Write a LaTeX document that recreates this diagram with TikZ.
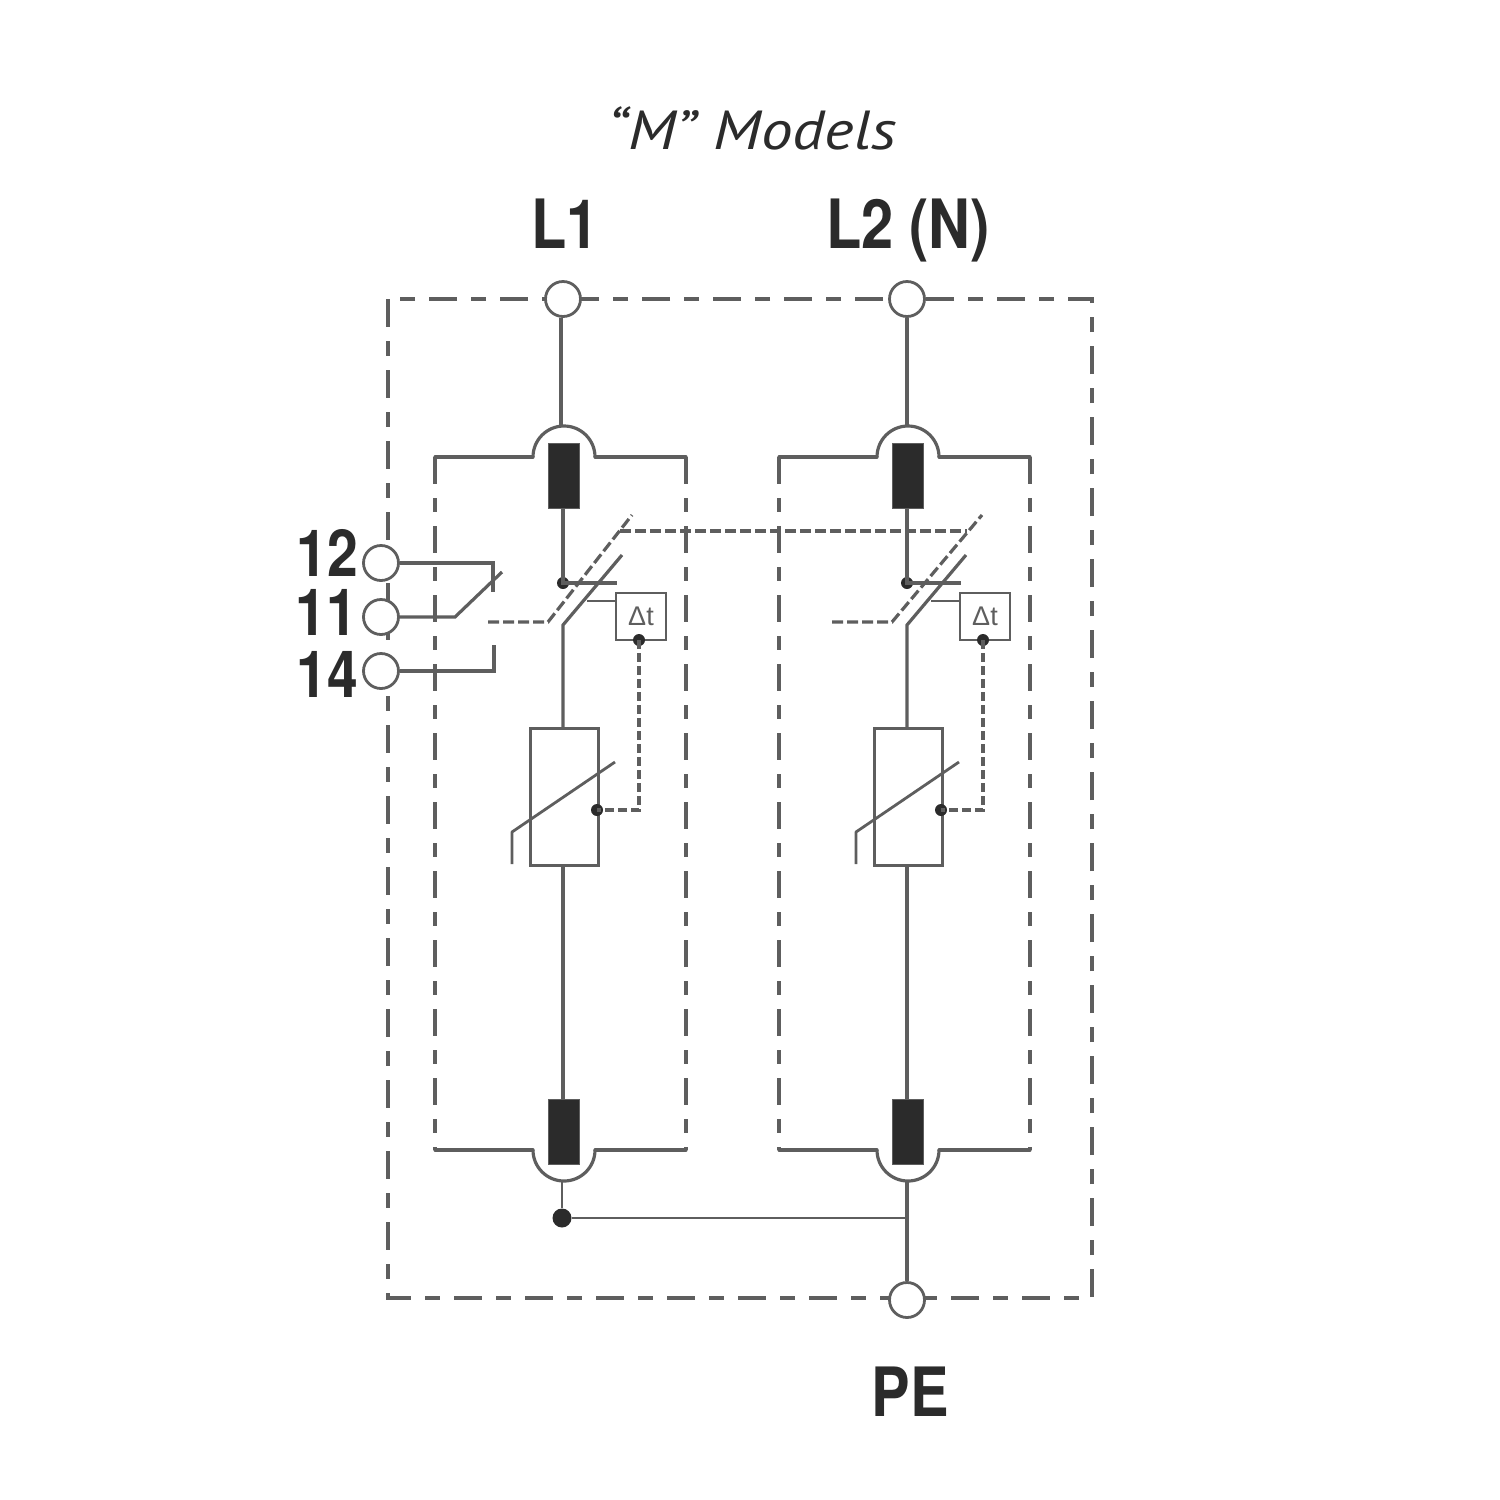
\documentclass[tikz,border=0pt]{standalone}
\usepackage{fontspec}
\setmainfont{Liberation Sans}
\newfontfamily\labfont[FakeStretch=0.85]{TeX Gyre Heros Bold}
\newfontfamily\titfont[FakeStretch=1.15]{PT Sans Italic}
\definecolor{wire}{HTML}{5E5E5E}
\definecolor{ink}{HTML}{2B2B2B}
\tikzset{
  wireline/.style={draw=wire,line width=3.2pt},
  outerdash/.style={draw=wire,line width=3.2pt,dash pattern=on 28pt off 14pt on 15pt off 14pt},
  innerdash/.style={draw=wire,line width=3.6pt,dash pattern=on 27pt off 14pt on 14pt off 14pt},
  finedash/.style={draw=wire,line width=3.2pt,dash pattern=on 9pt off 4pt},
  linkdash/.style={draw=wire,line width=3.2pt,dash pattern=on 11pt off 4pt},
  terminal/.style={circle,draw=wire,line width=2.8pt,fill=white,minimum size=35pt,inner sep=0pt},
  fuseblock/.style={rectangle,fill=ink,draw=wire,line width=1pt,minimum width=31pt,minimum height=65pt,inner sep=0pt},
  varistor/.style={rectangle,draw=wire,line width=3pt,fill=white,minimum width=68pt,minimum height=137pt,inner sep=0pt},
  delaybox/.style={rectangle,draw=wire,line width=2.8pt,fill=white,minimum width=50pt,minimum height=47pt,inner sep=0pt,font=\fontsize{27}{27}\selectfont,text=wire},
  smalldot/.style={circle,fill=ink,minimum size=12pt,inner sep=0pt},
  bigdot/.style={circle,fill=ink,minimum size=19pt,inner sep=0pt},
  biglabel/.style={text=ink,inner sep=0pt,anchor=base,font=\labfont\fontsize{68}{68}\selectfont},
  termlabel/.style={text=ink,inner sep=0pt,anchor=base,font=\labfont\fontsize{65}{65}\selectfont},
  titlelabel/.style={text=ink,inner sep=0pt,anchor=base,font=\titfont\fontsize{55}{55}\selectfont}
}
% one pole: #1 name prefix, #2 reach of the upper dashed link
\newcommand{\drawpole}[2]{
  % enclosure
  \draw[wireline] (533,457) arc[start angle=180,end angle=360,radius=31];
  \draw[wireline] (533,1150) arc[start angle=180,end angle=0,radius=31];
  \draw[wireline,line cap=round] (533,457) -- (435,457);
  \draw[wireline,line cap=round] (595,457) -- (686,457);
  \draw[wireline,line cap=round] (533,1150) -- (435,1150);
  \draw[wireline,line cap=round] (595,1150) -- (686,1150);
  \draw[innerdash] (435,457) -- (435,1150);
  \draw[innerdash] (686,457) -- (686,1150);
  % components
  \node[fuseblock] (#1top) at (564,475.5) {};
  \node[fuseblock] (#1bot) at (564,1131.5) {};
  \node[varistor] (#1var) at (564,797) {};
  \node[delaybox] (#1dt) at (641,616.5) {Δt};
  \node[smalldot] (#1d1) at (563,583) {};
  \node[smalldot] (#1d2) at (639,640) {};
  \node[smalldot] (#1d3) at (597,810) {};
  \coordinate (#1sw) at (563,625);
  \coordinate (#1swtip) at (622,555);
  \coordinate (#1lnk) at (488,622);
  \coordinate (#1lnkb) at (548,622);
  \coordinate (#1lnkt) at (#2,515);
  \coordinate (#1bar) at (617,583);
  \coordinate (#1dtl) at (587,601);
  \coordinate (#1corner) at (639,810);
  \coordinate (#1vA) at (615,762);
  \coordinate (#1vB) at (512,832);
  \coordinate (#1vC) at (512,864);
  % wiring
  \draw[wireline] (#1top.south -| #1d1) -- (#1d1.center) -- (#1bar);
  \draw[wireline] (#1var.north -| #1sw) -- (#1sw) -- (#1swtip);
  \draw[wireline] (#1var.south -| #1sw) -- (#1bot.north -| #1sw);
  \draw[wireline,line width=2.6pt] (#1dt.west |- #1dtl) -- (#1dtl);
  \draw[finedash] (#1d2.center) -- (#1corner) -- (#1d3.center);
  \draw[linkdash] (#1lnk) -- (#1lnkb) -- (#1lnkt);
  \draw[wireline,line width=2.8pt,line join=round] (#1vA) -- (#1vB) -- (#1vC);
}
\begin{document}
\begin{tikzpicture}[x=1pt,y=-1pt]
\useasboundingbox (0,0) rectangle (1500,1500);
\draw[outerdash] (388,299) rectangle (1092,1298);

\begin{scope}
  \drawpole{a}{632}
\end{scope}
\begin{scope}[xshift=344pt]
  \drawpole{b}{638}
\end{scope}

% junction and connector ends
\node[bigdot] (J) at (562,1218) {};
\coordinate (arcB) at (907,1181);
\coordinate (arcA) at (562,1181);
\coordinate (arcT1) at (561,426);
\coordinate (arcT2) at (907,426);
\coordinate (Jr) at (907,1218);

% terminals
\node[terminal] (L1) at (563,299) {};
\node[terminal] (L2) at (907,299) {};
\node[terminal] (PE) at (907,1300) {};
\node[terminal] (T12) at (381,563) {};
\node[terminal] (T11) at (381,617) {};
\node[terminal] (T14) at (381,671) {};

% connectors
\draw[wireline] (L1.south -| arcT1) -- (arcT1);
\draw[wireline] (L2) -- (arcT2);
\draw[wireline,line width=2.6pt] (arcA) -- (J);
\draw[wireline,line width=2.6pt] (J) -- (Jr);
\draw[wireline] (arcB) -- (PE);

% upper link between switches
\coordinate (lnkL) at (620,531);
\coordinate (lnkR) at (967,531);
\draw[linkdash] (lnkL) -- (lnkR);

% auxiliary contact
\coordinate (c12a) at (493,563);
\coordinate (c12b) at (493,592);
\coordinate (c11a) at (455,617);
\coordinate (c11b) at (502,572);
\coordinate (c14a) at (494,671);
\coordinate (c14b) at (494,645);
\draw[wireline] (T12) -- (c12a) -- (c12b);
\draw[wireline] (T11) -- (c11a) -- (c11b);
\draw[wireline] (T14) -- (c14a) -- (c14b);

% labels
\node[titlelabel] (title) at (752,149) {“M” Models};
\node[biglabel] (lL1) at (565,248) {L1};
\node[biglabel] (lL2) at (908,248) {L2 (N)};
\node[biglabel] (lPE) at (910,1416) {PE};
\node[termlabel] (l12) at (327,576) {12};
\node[termlabel] (l11) at (326,635) {11};
\node[termlabel] (l14) at (327,697) {14};
\end{tikzpicture}
\end{document}
